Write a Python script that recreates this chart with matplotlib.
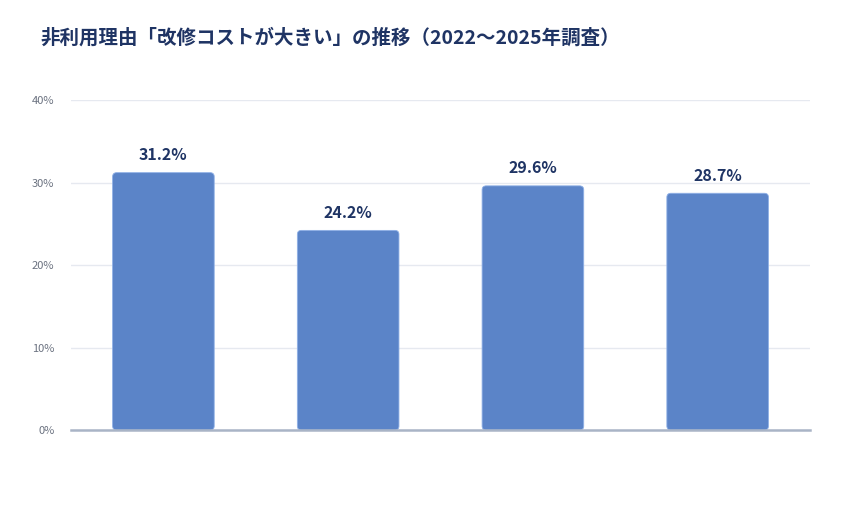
import matplotlib
matplotlib.use("Agg")
import matplotlib.pyplot as plt
from matplotlib.patches import FancyBboxPatch

plt.rcParams['font.family'] = ['Noto Sans CJK JP', 'DejaVu Sans']

# survey years (not shown on the axis in the original) and shares
years = ["2022", "2023", "2024", "2025"]
values = [31.2, 24.2, 29.6, 28.7]
yticks = [0, 10, 20, 30, 40]

title = "非利用理由「改修コストが大きい」の推移（2022～2025年調査）"
bar_color = "#5b84c8"
navy = "#1f3464"

fig = plt.figure(figsize=(8.6, 5.2), dpi=100)
ax = fig.add_axes([0.0826, 0.173, 0.8593, 0.6346])

x = list(range(len(years)))
bars = ax.bar(x, values, width=0.55, color=bar_color, zorder=2)

# swap the plain rectangles for rounded ones
for b in bars:
    rb = FancyBboxPatch((b.get_x(), b.get_y()), b.get_width(), b.get_height(),
                        boxstyle="round,pad=0,rounding_size=0.022",
                        mutation_aspect=22, facecolor=bar_color,
                        edgecolor="#8fb0e6", linewidth=0.6, zorder=2)
    ax.add_patch(rb)
    b.set_visible(False)

for xi, v in zip(x, values):
    ax.annotate(f"{v:.1f}%", (xi, v), xytext=(0, 7), textcoords="offset points",
                ha="center", va="bottom", fontsize=11.5, fontweight="bold",
                color=navy)

ax.set_xlim(-0.5, 3.5)
ax.set_ylim(0, 40)
ax.set_yticks(yticks)
ax.set_yticklabels([f"{t}%" for t in yticks])
ax.set_xticks([])
ax.tick_params(axis="y", length=0, pad=12, labelsize=8, labelcolor="#6b7280")
ax.grid(axis="y", color="#e6e9f0", linewidth=1, zorder=0)
for s in ["top", "right", "left"]:
    ax.spines[s].set_visible(False)
ax.spines["bottom"].set_color("#a9b4c6")
ax.spines["bottom"].set_linewidth(1.8)
ax.spines["bottom"].set_zorder(3)

fig.text(40 / 860, 1 - 38 / 520, title, fontsize=14, fontweight="bold",
         color=navy, ha="left", va="center")

fig.savefig("out.png", dpi=100, facecolor="white")
